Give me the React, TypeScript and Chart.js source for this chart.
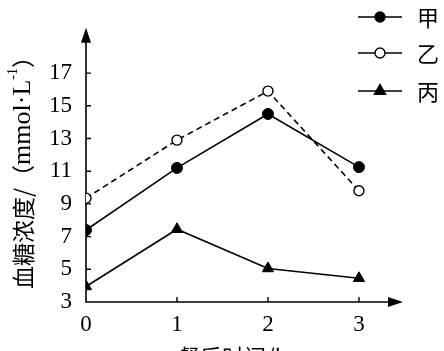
import React, { useEffect, useRef } from "react";
import { Chart, registerables } from "chart.js";

Chart.register(...registerables);

const hours = [0, 1, 2, 3];
const jia = [7.4, 11.2, 14.5, 11.25];
const yi = [9.35, 12.9, 15.9, 9.8];
const bing = [3.95, 7.45, 5.05, 4.45];
const yTicks = [3, 5, 7, 9, 11, 13, 15, 17];
const xTicks = [0, 1, 2, 3];
const seriesNames = ["甲", "乙", "丙"];
const yTitleParts = ["血糖浓度/", "（", "mmol·L", "-1", "）"];
const xTitle = "餐后时间/h";

const SERIF = '"Liberation Serif", "Noto Sans CJK SC", serif';
const CJK = '"Noto Sans CJK SC", "Liberation Serif", serif';

const toPts = (ys: number[]) => hours.map((x, i) => ({ x, y: ys[i] }));

const decor = {
  id: "decor",
  beforeDatasetsDraw(chart: any) {
    const { ctx, chartArea } = chart;
    const x0 = chartArea.left;
    const y0 = chartArea.bottom;
    const xs = chart.scales.x;
    const ys = chart.scales.y;
    ctx.save();
    ctx.strokeStyle = "#000";
    ctx.fillStyle = "#000";
    ctx.lineWidth = 1.6;
    ctx.beginPath();
    ctx.moveTo(x0, chartArea.top + 8);
    ctx.lineTo(x0, y0);
    ctx.lineTo(chartArea.right - 8, y0);
    ctx.stroke();
    ctx.beginPath();
    ctx.moveTo(x0, chartArea.top);
    ctx.lineTo(x0 - 5, chartArea.top + 15);
    ctx.lineTo(x0 + 5, chartArea.top + 15);
    ctx.closePath();
    ctx.fill();
    ctx.beginPath();
    ctx.moveTo(chartArea.right, y0);
    ctx.lineTo(chartArea.right - 15, y0 - 5);
    ctx.lineTo(chartArea.right - 15, y0 + 5);
    ctx.closePath();
    ctx.fill();
    ctx.lineWidth = 1.4;
    ctx.beginPath();
    yTicks.forEach((v) => {
      if (v === yTicks[0]) return;
      const py = ys.getPixelForValue(v);
      ctx.moveTo(x0, py);
      ctx.lineTo(x0 + 5, py);
    });
    xTicks.forEach((v) => {
      if (v === xTicks[0]) return;
      const px = xs.getPixelForValue(v);
      ctx.moveTo(px, y0);
      ctx.lineTo(px, y0 - 5);
    });
    ctx.stroke();
    ctx.restore();
  },
  afterDraw(chart: any) {
    const { ctx } = chart;
    ctx.save();
    ctx.fillStyle = "#000";
    const fonts = [
      `23px ${CJK}`,
      `23px ${CJK}`,
      `26px ${SERIF}`,
      `14px ${SERIF}`,
      `23px ${CJK}`,
    ];
    const offs = [0, 0, 0, -10, 0];
    const widths = yTitleParts.map((t, i) => {
      ctx.font = fonts[i];
      return ctx.measureText(t).width;
    });
    const total = widths.reduce((a, b) => a + b, 0);
    ctx.save();
    ctx.translate(23, 167);
    ctx.rotate(-Math.PI / 2);
    ctx.textAlign = "left";
    ctx.textBaseline = "middle";
    let cx = -total / 2;
    yTitleParts.forEach((t, i) => {
      ctx.font = fonts[i];
      ctx.fillText(t, cx, offs[i]);
      cx += widths[i];
    });
    ctx.restore();
    ctx.font = `22px ${CJK}`;
    ctx.textAlign = "center";
    ctx.textBaseline = "middle";
    ctx.fillText(xTitle, 233, 357);
    const rows = [17, 53, 91];
    const styles = chart.data.datasets;
    rows.forEach((ry, i) => {
      const ds = styles[i];
      ctx.strokeStyle = "#000";
      ctx.lineWidth = 1.6;
      ctx.setLineDash([]);
      ctx.beginPath();
      ctx.moveTo(358, ry);
      ctx.lineTo(402, ry);
      ctx.stroke();
      ctx.lineWidth = 1.4;
      ctx.fillStyle = ds.pointBackgroundColor;
      ctx.beginPath();
      if (ds.pointStyle === "triangle") {
        const r = 6.5;
        ctx.moveTo(380, ry - r);
        ctx.lineTo(380 + r * Math.sin((2 * Math.PI) / 3), ry - r * Math.cos((2 * Math.PI) / 3));
        ctx.lineTo(380 + r * Math.sin((4 * Math.PI) / 3), ry - r * Math.cos((4 * Math.PI) / 3));
        ctx.closePath();
      } else {
        ctx.arc(380, ry, 5, 0, Math.PI * 2);
      }
      ctx.fill();
      ctx.stroke();
      ctx.fillStyle = "#000";
      ctx.font = `22px ${CJK}`;
      ctx.textAlign = "left";
      ctx.textBaseline = "middle";
      ctx.fillText(seriesNames[i], 417, ry + 1);
    });
    ctx.restore();
  },
};

export default function App() {
  const ref = useRef<HTMLCanvasElement | null>(null);
  useEffect(() => {
    if (!ref.current) return;
    const chart = new Chart(ref.current, {
      type: "line",
      data: {
        datasets: [
          {
            label: seriesNames[0],
            data: toPts(jia),
            borderColor: "#000",
            borderWidth: 1.6,
            pointStyle: "circle",
            pointRadius: 5.5,
            pointBackgroundColor: "#000",
            pointBorderColor: "#000",
            pointBorderWidth: 1,
            tension: 0,
          },
          {
            label: seriesNames[1],
            data: toPts(yi),
            borderColor: "#000",
            borderWidth: 1.6,
            borderDash: [6, 4],
            pointStyle: "circle",
            pointRadius: 5,
            pointBackgroundColor: "#fff",
            pointBorderColor: "#000",
            pointBorderWidth: 1.4,
            tension: 0,
          },
          {
            label: seriesNames[2],
            data: toPts(bing),
            borderColor: "#000",
            borderWidth: 1.6,
            pointStyle: "triangle",
            pointRadius: 6.5,
            pointBackgroundColor: "#000",
            pointBorderColor: "#000",
            pointBorderWidth: 1,
            tension: 0,
          },
        ],
      },
      options: {
        animation: false,
        responsive: false,
        maintainAspectRatio: false,
        layout: { padding: { top: 5, right: 41, left: 0, bottom: 0 } },
        plugins: { legend: { display: false }, tooltip: { enabled: false } },
        scales: {
          x: {
            type: "linear",
            min: 0,
            max: 3.484,
            grid: { display: false, drawTicks: false },
            border: { display: false },
            afterBuildTicks: (s: any) => {
              s.ticks = xTicks.map((v) => ({ value: v }));
            },
            afterFit: (s: any) => {
              s.height = 49;
            },
            ticks: {
              padding: 9,
              color: "#000",
              font: { family: SERIF, size: 23 },
              maxRotation: 0,
              autoSkip: false,
            },
          },
          y: {
            type: "linear",
            min: 3,
            max: 19.77,
            grid: { display: false, drawTicks: false },
            border: { display: false },
            afterBuildTicks: (s: any) => {
              s.ticks = yTicks.map((v) => ({ value: v }));
            },
            afterFit: (s: any) => {
              s.width = 86;
            },
            ticks: {
              padding: 14,
              color: "#000",
              font: { family: SERIF, size: 23 },
              autoSkip: false,
            },
          },
        },
      },
      plugins: [decor],
    });
    return () => chart.destroy();
  }, []);
  return (
    <div style={{ position: "fixed", left: 0, top: 0, width: 444, height: 351, background: "#fff" }}>
      <canvas ref={ref} width={444} height={351} style={{ display: "block" }} />
    </div>
  );
}
